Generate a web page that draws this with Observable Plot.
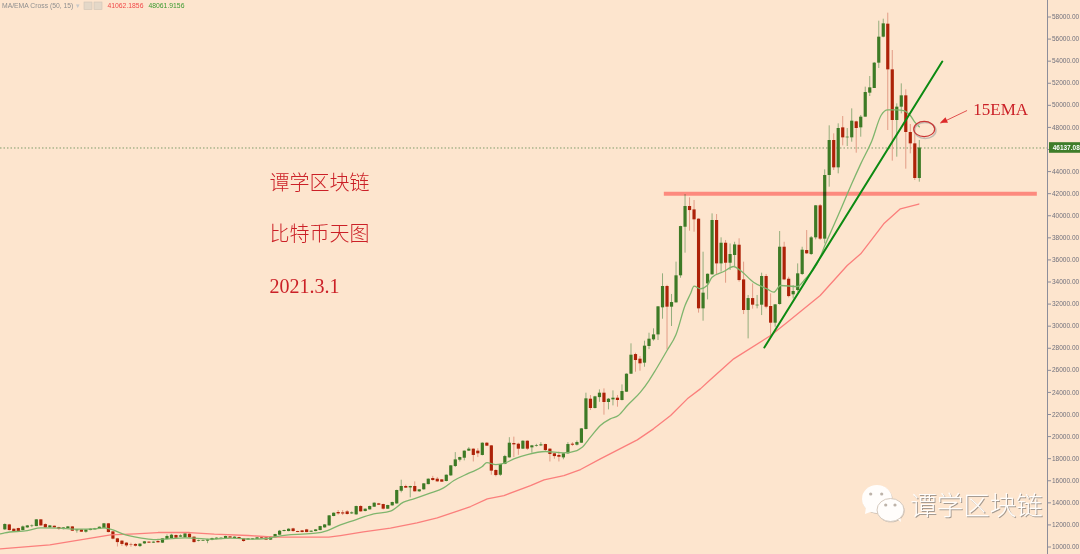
<!DOCTYPE html>
<html><head><meta charset="utf-8">
<style>html,body{margin:0;padding:0;background:#fde5ce;overflow:hidden}svg{display:block;filter:blur(0.35px)}</style>
<script src="https://cdn.jsdelivr.net/npm/d3@7"></script>
<script src="https://cdn.jsdelivr.net/npm/@observablehq/plot@0.6"></script>
</head><body><div id="chart"></div>
<script>
const opens=[11553,12000,11610,11670,11490,11730,11850,11850,12460,12030,
11730,11880,11760,11580,11670,11820,11460,11550,11340,11490,
11550,11610,11670,12100,11370,10740,10530,10350,10200,10230,
10040,10280,10440,10350,10500,10350,10680,10770,11040,10890,
10830,11160,10890,10500,10530,10530,10590,10680,10680,10770,
10920,10770,10860,10740,10620,10650,10680,10830,10830,10620,
10830,11070,11400,11400,11642,11400,11460,11550,11340,11400,
11490,11730,11910,12760,13122,13090,13180,13000,12910,13665,
13212,13363,13605,13906,13846,13424,13726,13900,15050,15480,
15350,15480,15000,15180,15650,16200,16140,16080,15930,16440,
17290,17860,18040,18680,18860,18680,18290,19400,19160,16930,
16500,17470,18070,19370,19310,18860,19580,18980,19130,19160,
19280,18860,18440,18290,18070,18440,19310,19220,19400,20640,
23386,22541,23530,23930,23084,23326,23477,23266,24020,25650,
27430,27010,26650,28160,28760,29210,31660,33590,31720,32110,
34560,38960,40840,40530,39690,31570,33830,34650,39570,35640,
37510,35700,36400,37330,34190,31420,32500,31840,31900,34500,
31780,30270,31960,37150,34250,32840,33230,34680,36850,36490,
38000,40900,37880,43644,46814,44339,47961,47056,47056,48505,
47961,48928,51101,51524,53818,56173,57350,53214,48626,49833,
50860,47539,46512,43373];
const closes=[12036,11490,11400,11400,11820,11910,11900,12460,11910,11730,
11910,11730,11610,11730,11820,11430,11550,11340,11550,11610,
11670,11790,12100,11310,10710,10400,10230,10100,10160,10070,
10260,10470,10350,10440,10380,10740,10950,11070,10800,11010,
11190,10830,10400,10560,10590,10650,10770,10800,10800,10950,
10800,10890,10740,10500,10740,10740,10830,10740,10620,10890,
11130,11430,11490,11610,11400,11320,11310,11310,11430,11550,
11850,12000,12820,13060,13001,12990,12940,13090,13665,13182,
13424,13665,13967,13786,13424,13756,14027,15115,15480,15330,
15480,15000,15175,15720,16140,16020,15900,15870,16500,17350,
17890,18100,18680,18860,18290,18440,19400,19130,16870,16470,
17470,18190,19400,19250,18860,19580,18860,19160,19190,19250,
18740,18380,18190,18130,18440,19280,19220,19460,20700,23420,
22541,23600,23930,23084,23386,23477,23266,24080,25650,27370,
26890,26590,28190,28820,29210,31750,33590,31720,32140,34560,
39020,40840,40470,39630,31570,32990,34700,39570,35640,37510,
35700,36490,37360,34130,31420,32500,31900,31900,34500,31720,
30270,31930,37150,34190,32680,33140,34740,36880,36550,38000,
40900,37880,43644,46814,44339,47901,47056,47116,48565,47901,
48928,51161,51584,53818,56173,57381,53214,48626,49833,50860,
47539,46512,43373,46137];
const highs=[12100,12050,11650,11700,11900,11950,12000,12480,12480,12100,
11950,11900,11790,11760,11850,11850,11580,11580,11580,11640,
11690,11820,12130,12130,11400,10780,10580,10400,10340,10300,
10290,10500,10470,10470,10700,10770,11100,11150,11090,11100,
11220,11190,10920,10620,10650,10700,10800,10830,10830,10980,
10950,10920,10890,10770,10770,10770,10860,10860,10860,10920,
11150,11500,11530,11650,11700,11430,11500,11600,11460,11580,
11880,12030,12850,13090,13303,13300,13300,13180,13700,13750,
13450,13700,14000,13950,13880,13780,14060,15150,16050,15600,
15500,15900,15200,15750,16170,16400,16300,16110,16530,17380,
18550,18130,18700,19000,18890,18900,19430,19450,19190,17000,
17500,18300,19900,19950,19400,19620,19620,19200,19300,19450,
19310,18900,18480,18600,18480,19450,19450,19600,20730,23930,
23718,23650,24230,24320,23450,24140,23720,24680,25680,28400,
27550,27250,28640,29360,29760,31780,34740,33700,32870,35800,
39050,41920,41620,41380,39720,36700,34730,40170,40110,38000,
37760,37450,37600,37910,35800,32780,33830,32780,34800,34680,
32930,31960,38570,37600,34430,33680,35640,37150,38660,38120,
40930,41020,44158,48143,47418,48324,48988,47901,49682,48565,
49079,51645,52611,53879,57622,57803,58347,54965,50135,51946,
51403,48263,48022,46814];
const lows=[11500,11450,11350,11350,11450,11700,11750,11840,11880,11680,
11700,11700,11500,11550,11650,11400,11250,11320,11250,11470,
11530,11590,11650,11280,10650,10000,10050,9950,9980,10000,
9950,10250,10320,10320,10350,10320,10650,10750,10770,10860,
10800,10800,10360,10470,10500,10300,10560,10650,10650,10740,
10770,10750,10720,10430,10600,10630,10660,10720,10600,10600,
10810,11040,11380,11380,11340,11300,11290,11290,11320,11380,
11470,11700,11890,12740,12880,12850,12900,12950,12880,13150,
13190,13340,13580,13760,13350,13400,13700,13870,14900,15300,
14450,14970,14950,15150,15630,15950,15870,15840,15900,16400,
17200,17700,17800,18650,17700,18100,18250,19100,16500,16350,
16400,17450,18050,18100,18300,18830,18750,18500,19050,19100,
18650,17700,17950,17700,17900,18400,19100,19150,19380,20600,
22360,22500,23100,21940,22420,22780,22660,23230,24000,25620,
25830,25920,26280,27880,28640,28700,30630,27850,29970,32100,
34340,36610,38600,38510,31180,30450,32380,34620,34590,34890,
33890,35040,35400,33980,31050,28850,31540,31570,30960,31570,
29000,29900,31900,34130,32560,32470,33080,34590,36490,36400,
37820,37760,37450,42588,44097,43795,46331,46270,46663,45667,
47116,48928,50799,51524,53335,56113,47720,44942,45305,49229,
44218,45607,43192,43040];
const emaIndex=[-1,0,5,8,12,16,20,22,24,26,30,33,35,40,42,46,50,55,58,60,63,69,71.6,74.5,77.4,81.9,85.6,88.5,90.8,94.4,97.4,99.7,103,106,107,109,111,113,116,120,124,127,128,130,132.2,134.4,136.2,138.2,141.1,143,144.4,147,149,151,152.2,153,154.4,155.9,157,159.6,161.8,163.3,166.2,169.2,170.7,172.2,175.9,177.7,180.3,182.2,184.8,186.4,188,190,192.5,194.5,196,198,199.5,201,202,203];
const emaValues=[11191,11281,11492,11734,11704,11613,11640,11734,11553,11220,10828,10677,10708,10828,10798,10708,10798,10708,10768,10919,11100,11250,11491,12005,12397,13001,13243,14058,14360,14873,15356,16020,16684,17288,17650,17469,17590,17983,18375,18647,18526,18737,18979,19945,21000,21606,21907,22813,24021,25077,25983,27794,29243,31870,32927,33621,33380,33682,34437,34950,35403,35040,33984,33380,33078,33682,33591,34286,35644,37456,39871,41380,42890,44700,46816,49079,49592,49592,49530,49079,48475,48062];
const maIndex=[-1,10,23.5,29,34,41,46.5,54,60,65.5,71.9,74.5,79.6,85.6,91.5,96,100.8,103.4,107.1,110.8,116.7,119.7,124.1,127.8,132.2,140.4,144,147.8,151.5,154.4,156.6,161.8,170,173.7,181,187,190,195.1,198.8,202.9];
const maValues=[9832,10194,11100,11190,11311,11311,11160,11040,10889,10889,10888,11039,11370,11703,12186,12639,13303,13665,14360,14662,15567,16081,16473,17017,17983,19703,20700,21907,23417,24322,25138,27040,29153,30361,32776,35493,36550,39267,40626,41062];
const yTicks=d3.range(10000,58001,2000);
const supportLevel=42000, supportFrom=146.4, supportTo=229.2;
const lastPrice=46137.08;
const trendIndex=[168.6,208.1], trendValues=[28066,53970];
const arrowFrom=[213.6,49530], arrowTo=[207.7,48380];
const titles=["谭学区块链","比特币天图"];
const dateLabel="2021.3.1";

const candles=opens.map((o,i)=>({i,o,c:closes[i],h:highs[i],l:lows[i],up:closes[i]>=o}));
const ema=emaIndex.map((x,k)=>({x,y:emaValues[k]}));
const ma=maIndex.map((x,k)=>({x,y:maValues[k]}));
const trend=trendIndex.map((x,k)=>({x,y:trendValues[k]}));
const GREEN="#3d7a25", RED="#ad2208", GW="#94ad7c", RW="#e29c86";
const TXT="#cb2027";
const sans="'Liberation Sans',Arial,sans-serif", serif="'Liberation Serif',serif", cjk="'Noto Sans CJK SC',sans-serif";

const plot=Plot.plot({
  width:1080,height:554,marginTop:0,marginBottom:0,marginLeft:0,marginRight:33,
  style:{background:"#fde5ce",fontFamily:sans,fontSize:"6.5px"},
  x:{domain:[0,203],range:[4.3,918.8],axis:null},
  y:{domain:[10000,58000],range:[546.5,16.5]},
  marks:[
    Plot.ruleY([lastPrice],{stroke:"#5f8a50",strokeWidth:0.8,strokeDasharray:"1.5,2"}),
    Plot.ruleX(candles,{x:"i",y1:"l",y2:"h",stroke:d=>d.up?GW:RW,strokeWidth:1}),
    Plot.ruleX(candles,{x:"i",y1:"o",y2:"c",stroke:d=>d.up?GREEN:RED,strokeWidth:3.2}),
    Plot.ruleY([supportLevel],{x1:supportFrom,x2:supportTo,stroke:"#ff9a9c",strokeWidth:4,mixBlendMode:"multiply"}),
    Plot.line(ma,{x:"x",y:"y",stroke:"#fb7f7c",strokeWidth:1.3}),
    Plot.line(ema,{x:"x",y:"y",stroke:"#7fb56d",strokeWidth:1.3,curve:"monotone-x"}),
    Plot.line(trend,{x:"x",y:"y",stroke:"#0c8a12",strokeWidth:2}),
    Plot.link([{}],{x1:arrowFrom[0],y1:arrowFrom[1],x2:arrowTo[0],y2:arrowTo[1],stroke:"#dc4040",strokeWidth:0.9}),
    Plot.frame({anchor:"right",stroke:"#8d8d9a",strokeWidth:1}),
    Plot.axisY(yTicks,{anchor:"right",label:null,tickSize:3,tickPadding:1.5,stroke:"#8d8d9a",fill:"#70707c",
      tickFormat:d=>d.toFixed(2),fontSize:6.5}),
    Plot.rect([{}],{x1:231.9,x2:240,y1:lastPrice-480,y2:lastPrice+480,fill:"#3f7d2a"}),
    Plot.text([lastPrice.toFixed(2)],{x:232.6,y:lastPrice,text:d=>d,textAnchor:"start",fill:"#fff",fontWeight:"bold",fontSize:6.5}),
    Plot.text([titles[0]],{x:58.75,y:42920,text:d=>d,textAnchor:"start",fill:TXT,fontSize:20,fontFamily:cjk,fontWeight:300,letterSpacing:"1px"}),
    Plot.text([titles[1]],{x:58.75,y:38300,text:d=>d,textAnchor:"start",fill:TXT,fontSize:20,fontFamily:cjk,fontWeight:300,letterSpacing:"1px"}),
    Plot.text([dateLabel],{x:58.75,y:33590,text:d=>d,textAnchor:"start",fill:TXT,fontSize:20,fontFamily:serif,letterSpacing:"2.2px"}),
    Plot.text(["15EMA"],{x:215,y:49622,text:d=>d,textAnchor:"start",fill:TXT,fontSize:17,fontFamily:serif,letterSpacing:"-0.7px"}),
    Plot.text(["MA/EMA Cross (50, 15)"],{frameAnchor:"top-left",dx:1.5,dy:2.5,text:d=>d,textAnchor:"start",fill:"#8f8f8f",fontSize:6.8}),
    Plot.text(["41062.1856"],{frameAnchor:"top-left",dx:107,dy:2.5,text:d=>d,textAnchor:"start",fill:"#f04848",fontSize:6.8}),
    Plot.text(["48061.9156"],{frameAnchor:"top-left",dx:148,dy:2.5,text:d=>d,textAnchor:"start",fill:"#3a9a30",fontSize:6.8}),
    Plot.text(["▾"],{frameAnchor:"top-left",dx:75,dy:2.5,text:d=>d,textAnchor:"start",fill:"#c8c8c8",fontSize:6.8}),
    Plot.text(["谭学区块链"],{x:201,y:13700,dx:1,dy:1,text:d=>d,textAnchor:"start",fill:"#a59b92",fontSize:26.5,fontFamily:cjk,fontWeight:300}),
    Plot.text(["谭学区块链"],{x:201,y:13700,text:d=>d,textAnchor:"start",fill:"#fffdfb",fontSize:26.5,fontFamily:cjk,fontWeight:300})
  ]
});
document.getElementById("chart").appendChild(plot);

// decorations drawn over the plot: marker ellipse, arrow head, legend buttons, WeChat logo
const svg=d3.select(plot);
const sx=plot.scale("x").apply, sy=plot.scale("y").apply;
const cx=sx(204.2), cy=sy(47810);
svg.append("ellipse").attr("cx",cx+1).attr("cy",cy+1.5).attr("rx",10.8).attr("ry",8).attr("fill","none").attr("stroke","#c4bab0").attr("stroke-width",1.4);
svg.append("ellipse").attr("cx",cx).attr("cy",cy).attr("rx",10.5).attr("ry",7.6).attr("fill","none").attr("stroke","#c93535").attr("stroke-width",1.2);
const tipX=sx(arrowTo[0]), tipY=sy(arrowTo[1]);
svg.append("path").attr("d",`M${tipX},${tipY}l5.5,-5.5l2.5,5.5Z`).attr("fill","#dc2a2a");
[[84,2],[94,2]].forEach(([x,y])=>svg.append("rect").attr("x",x).attr("y",y).attr("width",8).attr("height",7.5).attr("fill","#e4d8c8").attr("stroke","#cfc4b6").attr("stroke-width",.6));
const logo=svg.append("g");
function bubble(ex,ey,rx,ry,tail,fill,edge){
  logo.append("ellipse").attr("cx",ex+0.6).attr("cy",ey+0.8).attr("rx",rx).attr("ry",ry).attr("fill","#c4b9ae");
  logo.append("path").attr("d",tail).attr("fill",fill);
  logo.append("ellipse").attr("cx",ex).attr("cy",ey).attr("rx",rx).attr("ry",ry).attr("fill",fill).attr("stroke",edge).attr("stroke-width",1);
}
bubble(877,499,15,14,"M866,507L865,514L873,511Z","#fffdfb","none");
bubble(890.5,510,13.5,11.5,"M896,518L901,522L900,514Z","#fffdfb","#d6cabe");
[[870.7,494],[881.7,494],[885.7,505],[895,505]].forEach(([x,y])=>logo.append("circle").attr("cx",x).attr("cy",y).attr("r",1.6).attr("fill","#bdb3a9"));
</script></body></html>
